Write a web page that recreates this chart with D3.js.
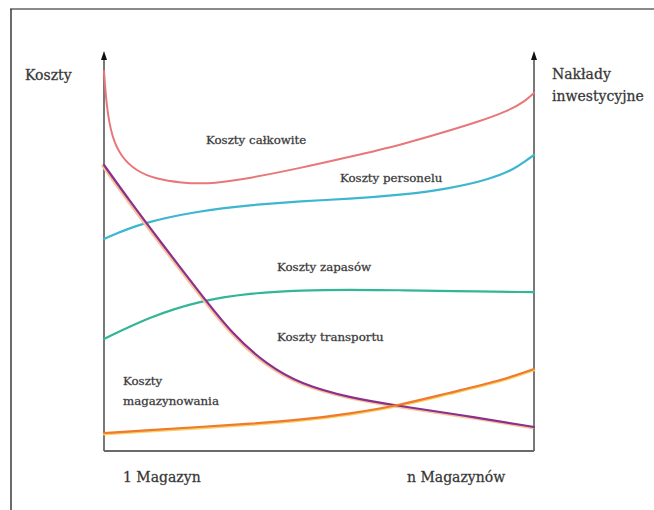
<!DOCTYPE html>
<html>
<head>
<meta charset="utf-8">
<script src="https://cdn.jsdelivr.net/npm/d3@7"></script>
<style>
  body { margin: 0; background: #fff; }
  svg { display: block; }
</style>
</head>
<body>
<svg id="chart" width="654" height="510"></svg>
<script>
// Data (x: 0 = 1 magazyn, 100 = n magazynów; y: relative cost level)
const totalX = [0, 0.6, 1.8, 4, 7.5, 12, 18, 24, 31, 46, 57, 69, 80, 87, 94, 98, 100];
const totalY = [95, 86, 78.5, 73.5, 70, 68, 67, 66.8, 67.6, 70.8, 73.5, 76.5, 80, 82.3, 85, 87.5, 89.5];

const staffX = [0, 8.5, 22, 34, 46, 57, 69, 80, 90, 95.5, 98, 100];
const staffY = [53, 57, 60, 61.5, 62.5, 63, 64, 65.5, 68, 70.5, 72.5, 74];

const stockX = [0, 10.5, 22, 34, 46, 57, 69, 80, 100];
const stockY = [28, 33.5, 37.5, 39.5, 40.2, 40.3, 40.2, 40, 39.7];

const transportX = [0, 6, 13, 22.3, 30, 38, 45.6, 57, 69, 83, 100];
const transportY = [71.5, 62.5, 52.5, 39.5, 29, 21.5, 16.8, 13.3, 11.2, 9, 6];

const storageX = [0, 10.5, 22, 34, 46, 57, 69, 80, 92, 100];
const storageY = [4.5, 5.2, 6, 6.8, 7.8, 9.3, 11.5, 14.5, 17.5, 20.5];

const curveLabels = ["Koszty całkowite", "Koszty personelu", "Koszty zapasów", "Koszty transportu", "Koszty magazynowania"];
const xTickLabels = ["1 Magazyn", "n Magazynów"];
const yTitleLeft = "Koszty";
const yTitleRight = ["Nakłady", "inwestycyjne"];

const FONT = "'DejaVu Serif', serif";

const svg = d3.select("#chart");

const x = d3.scaleLinear().domain([0, 100]).range([104, 534]);
const y = d3.scaleLinear().domain([0, 100]).range([451, 51]);

// frame of the picture
svg.append("line").attr("x1", 10).attr("x2", 654).attr("y1", 9).attr("y2", 9)
	.attr("stroke", "#8a8a8a").attr("stroke-width", 2);
svg.append("line").attr("x1", 11).attr("x2", 11).attr("y1", 9).attr("y2", 510)
	.attr("stroke", "#3a3a3a").attr("stroke-width", 1.5);

// axes
const axisColor = "#6a6a6a";
svg.append("line").attr("x1", x(0)).attr("x2", x(100)).attr("y1", y(0)).attr("y2", y(0))
	.attr("stroke", axisColor).attr("stroke-width", 1.8);
[0, 100].forEach(v => {
	svg.append("line").attr("x1", x(v)).attr("x2", x(v)).attr("y1", y(0)).attr("y2", y(100) + 6)
		.attr("stroke", axisColor).attr("stroke-width", 1.8);
	svg.append("path")
		.attr("d", `M${x(v)},${y(100)} L${x(v) - 3},${y(100) + 9} L${x(v) + 3},${y(100) + 9} Z`)
		.attr("fill", "#111");
});

const line = d3.line().curve(d3.curveBasis);
const toPts = (xs, ys) => xs.map((d, i) => [x(d), y(ys[i])]);

function draw(xs, ys, color, width, dx = 0, dy = 0) {
	svg.append("path")
		.attr("d", line(toPts(xs, ys)))
		.attr("transform", `translate(${dx},${dy})`)
		.attr("fill", "none")
		.attr("stroke", color)
		.attr("stroke-width", width)
		.attr("stroke-linecap", "round");
}

draw(totalX, totalY, "#e8777a", 2);
draw(staffX, staffY, "#3db6cf", 2.2);
draw(stockX, stockY, "#33b597", 2.2);
// soft yellow/peach edge under the two lower curves
draw(transportX, transportY, "#f7c49a", 2.4, -1.5, 1);
draw(storageX, storageY, "#f7d26a", 2.4, 0, 1.2);
draw(transportX, transportY, "#8a2f8c", 2.2);
draw(storageX, storageY, "#ef7a2c", 2.2);

// curve labels
const lab = (t, px, py) => svg.append("text").attr("x", px).attr("y", py)
	.attr("font-family", FONT).attr("font-size", 11.8).attr("fill", "#2a2a2a")
	.attr("stroke", "#555").attr("stroke-width", 0.3).text(t);
lab(curveLabels[0], 206, 144);
lab(curveLabels[1], 340, 182);
lab(curveLabels[2], 277, 271);
lab(curveLabels[3], 277, 341);
lab("Koszty", 123, 385);
lab("magazynowania", 123, 405);

// axis titles
const big = (t, px, py) => svg.append("text").attr("x", px).attr("y", py)
	.attr("font-family", FONT).attr("font-size", 14).attr("fill", "#2a2a2a")
	.attr("stroke", "#555").attr("stroke-width", 0.3).text(t);
big(yTitleLeft, 25, 80);
big(yTitleRight[0], 552, 79);
big(yTitleRight[1], 552, 101);
big(xTickLabels[0], 123, 482);
big(xTickLabels[1], 407, 482);
</script>
</body>
</html>
